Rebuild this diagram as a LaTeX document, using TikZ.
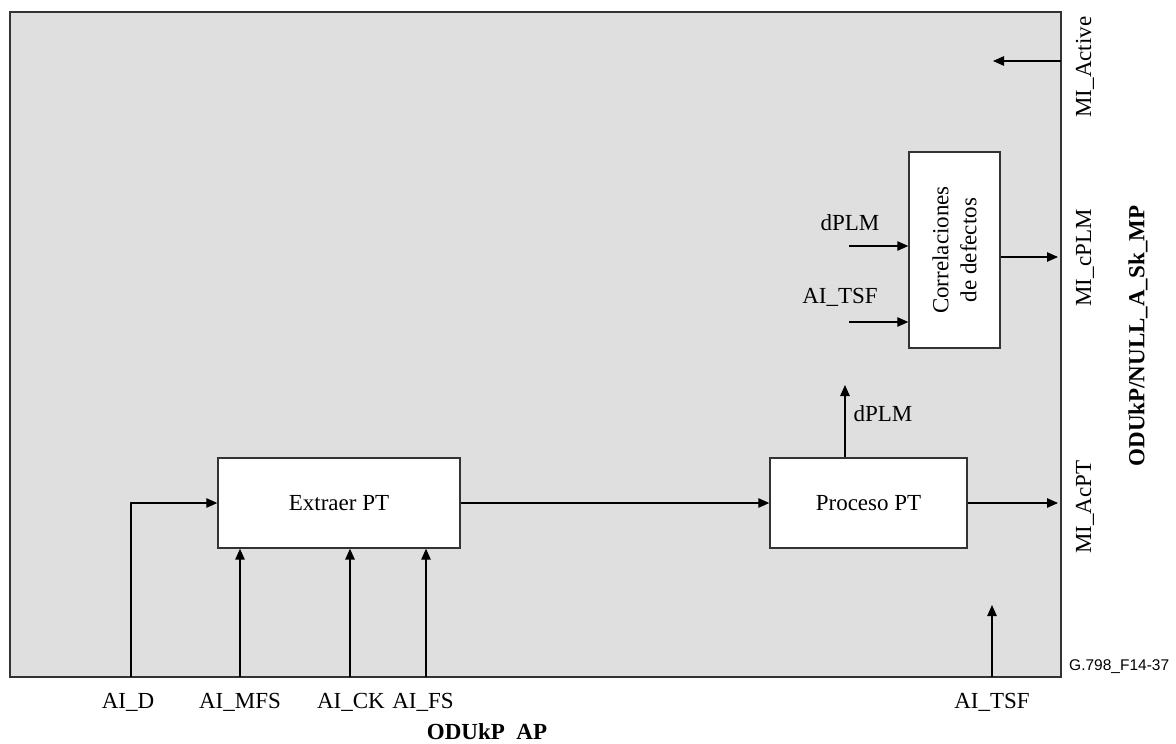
\documentclass[tikz,border=0pt]{standalone}
\usepackage{fontspec}
\setmainfont{Liberation Serif}
\newfontfamily\labsans{Liberation Sans}
\usetikzlibrary{arrows.meta}
\definecolor{bgfill}{HTML}{DFDFDF}
\definecolor{edge}{HTML}{333333}
\tikzset{
  blk/.style={draw=edge, line width=1.4pt, fill=white, inner sep=0pt, font=\fontsize{23}{28}\selectfont},
  arr/.style={draw=black, line width=1.2pt, -{Triangle[length=11pt,width=9.5pt]}},
  lab/.style={inner sep=0pt, font=\fontsize{23}{28}\selectfont},
  blab/.style={inner sep=0pt, font=\fontsize{23}{28}\selectfont\bfseries},
}
\begin{document}
\begin{tikzpicture}[x=1pt,y=-1pt]
\useasboundingbox (0,0) rectangle (1176,744);
% frame
\filldraw[fill=bgfill, draw=edge, line width=1.6pt] (10,12) rectangle (1061,677);

% blocks
\node[blk, minimum width=242pt, minimum height=90pt] (ext) at (339,503) {Extraer PT};
\node[blk, minimum width=197pt, minimum height=90pt] (proc) at (868.5,503) {Proceso PT};
\node[blk, minimum width=91pt, minimum height=196pt] (corr) at (954.5,250) {};
\node[lab, rotate=90, align=center] (corrtxt) at (corr.center) {Correlaciones\\de defectos};

% bottom inputs to Extraer PT
\coordinate (aid) at (131,677);
\coordinate (aimfs) at (240,677);
\coordinate (aick) at (350,677);
\coordinate (aifs) at (426,677);
\draw[arr] (aid) |- (ext.west);
\draw[arr] (aimfs) -- (aimfs |- ext.south);
\draw[arr, line width=1.6pt] (aick) -- (aick |- ext.south);
\draw[arr] (aifs) -- (aifs |- ext.south);

% main path
\draw[arr] (ext.east) -- (proc.west);
\coordinate (acpt) at (1058,503);
\draw[arr] (proc.east) -- (acpt);

% dPLM up from Proceso PT
\coordinate (dup) at (845,385);
\draw[arr] (dup |- proc.north) -- (dup);
\node[lab] (dplmup) at (883,414) {dPLM};

% Correlaciones inputs/outputs
\coordinate (cin1) at (849,246);
\coordinate (cin2) at (849,322);
\draw[arr] (cin1) -- (cin1 -| corr.west);
\draw[arr] (cin2) -- (cin2 -| corr.west);
\node[lab] (dplmin) at (850,223) {dPLM};
\node[lab] (tsfin) at (840,297) {AI\_TSF};
\coordinate (cplm) at (1058,257);
\draw[arr] (corr.east |- cplm) -- (cplm);

% MI_Active
\coordinate (maout) at (1061,61);
\coordinate (main) at (993,61);
\draw[arr] (maout) -- (main);

% AI_TSF bottom
\coordinate (tsfb) at (992,677);
\coordinate (tsft) at (992,605);
\draw[arr] (tsfb) -- (tsft);

% bottom labels
\node[lab] (lad) at (128,702) {AI\_D};
\node[lab] (lamfs) at (240,702) {AI\_MFS};
\node[lab] (lack) at (351,702) {AI\_CK};
\node[lab] (lafs) at (423,702) {AI\_FS};
\node[lab] (latsf) at (992,702) {AI\_TSF};
\node[blab] (lap) at (487,732) {ODUkP\ \ AP};

% right labels
\node[lab, rotate=90] (lmia) at (1085,67) {MI\_Active};
\node[lab, rotate=90] (lmic) at (1085,258) {MI\_cPLM};
\node[lab, rotate=90] (lmiac) at (1085,507) {MI\_AcPT};
\node[blab, rotate=90] (lsk) at (1138,336) {ODUkP/NULL\_A\_Sk\_MP};

% figure id
\node[inner sep=0pt, anchor=west, font=\labsans\fontsize{15.5}{18}\selectfont] (fid) at (1069,667) {G.798\_F14-37};
\end{tikzpicture}
\end{document}
